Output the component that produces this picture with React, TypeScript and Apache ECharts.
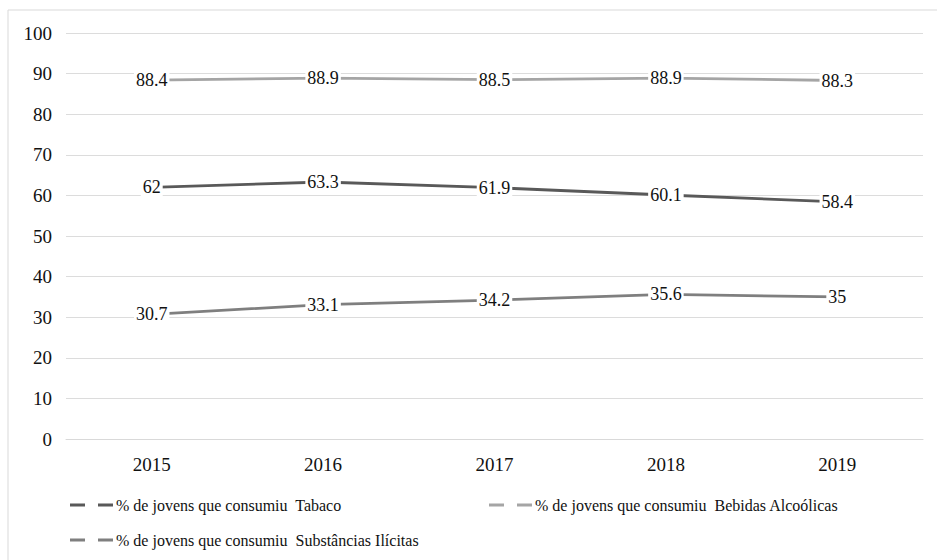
import React, { useEffect, useRef } from "react";
import * as echarts from "echarts";

const years = ["2015", "2016", "2017", "2018", "2019"];
const tabaco = [62, 63.3, 61.9, 60.1, 58.4];
const bebidas = [88.4, 88.9, 88.5, 88.9, 88.3];
const substancias = [30.7, 33.1, 34.2, 35.6, 35];
const seriesNames = [
  "% de jovens que consumiu  Tabaco",
  "% de jovens que consumiu  Bebidas Alcoólicas",
  "% de jovens que consumiu  Substâncias Ilícitas",
];
const colors = ["#595959", "#a5a5a5", "#7f7f7f"];

const FONT = "Liberation Serif";
const ICON = "path://M0,0h15v3H0z M28,0h15v3H28z";

export default function App() {
  const ref = useRef<HTMLDivElement>(null);
  useEffect(() => {
    if (!ref.current) return;
    const chart = echarts.init(ref.current, undefined, { renderer: "svg" });
    const mkSeries = (name: string, data: number[], color: string) => ({
      name,
      type: "line",
      data,
      symbol: "circle",
      symbolSize: 2,
      showSymbol: true,
      itemStyle: { color },
      lineStyle: { color, width: 2.8 },
      label: {
        show: true,
        position: "inside",
        fontFamily: FONT,
        fontSize: 18,
        color: "#111111",
        backgroundColor: "#ffffff",
        padding: [1, 2],
      },
      emphasis: { disabled: true },
    });
    const legendBase = {
      orient: "horizontal",
      icon: ICON,
      itemWidth: 45,
      itemHeight: 3,
      itemGap: 0,
      textStyle: { fontFamily: FONT, fontSize: 16, color: "#111111", padding: [0, 0, 0, -3] },
      selectedMode: false,
    };
    chart.setOption({
      animation: false,
      backgroundColor: "#ffffff",
      textStyle: { fontFamily: FONT },
      graphic: [
        {
          type: "rect",
          shape: { x: 8, y: 10, width: 1200, height: 1000 },
          style: { fill: "none", stroke: "#d9d9d9", lineWidth: 1 },
          silent: true,
        },
      ],
      grid: { left: 66, right: 14, top: 33, bottom: 121 },
      xAxis: {
        type: "category",
        data: years,
        boundaryGap: true,
        axisLine: { show: true, lineStyle: { color: "#d9d9d9", width: 1 } },
        axisTick: { show: false },
        axisLabel: { fontFamily: FONT, fontSize: 19, color: "#111111", margin: 16 },
      },
      yAxis: {
        type: "value",
        min: 0,
        max: 100,
        interval: 10,
        axisLine: { show: false },
        axisTick: { show: false },
        splitLine: { lineStyle: { color: "#dcdcdc", width: 1 } },
        axisLabel: { fontFamily: FONT, fontSize: 19, color: "#111111", margin: 14 },
      },
      legend: [
        { ...legendBase, left: 65, top: 492, data: [{ name: seriesNames[0], itemStyle: { color: colors[0] } }] },
        { ...legendBase, left: 484, top: 492, data: [{ name: seriesNames[1], itemStyle: { color: colors[1] } }] },
        { ...legendBase, left: 65, top: 527, data: [{ name: seriesNames[2], itemStyle: { color: colors[2] } }] },
      ],
      series: [
        mkSeries(seriesNames[0], tabaco, colors[0]),
        mkSeries(seriesNames[1], bebidas, colors[1]),
        mkSeries(seriesNames[2], substancias, colors[2]),
      ],
    });
    return () => chart.dispose();
  }, []);
  return (
    <div
      ref={ref}
      style={{ position: "fixed", left: 0, top: 0, width: 937, height: 560 }}
    />
  );
}
